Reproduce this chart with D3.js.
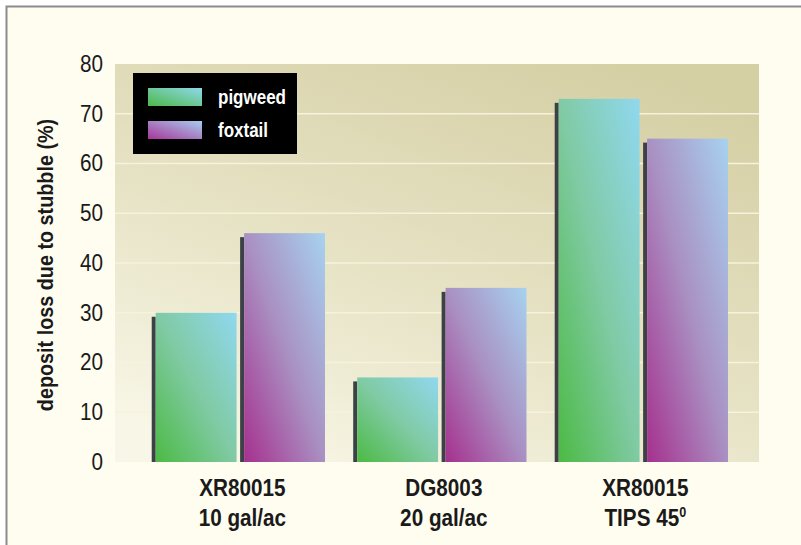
<!DOCTYPE html>
<html>
<head>
<meta charset="utf-8">
<script src="https://cdn.jsdelivr.net/npm/d3@7/dist/d3.min.js"></script>
<style>
  html, body { margin: 0; padding: 0; background: #ffffff; }
  svg { display: block; }
</style>
</head>
<body>
<script>
// ---- data ----
const categories = ["XR80015|10 gal/ac", "DG8003|20 gal/ac", "XR80015|TIPS 45"];
const catLine1 = ["XR80015", "DG8003", "XR80015"];
const catLine2 = ["10 gal/ac", "20 gal/ac", "TIPS 45"];
const catSup = ["", "", "0"];
const seriesNames = ["pigweed", "foxtail"];
const pigweed = [30, 17, 73];
const foxtail = [46, 35, 65];
const yTicks = [0, 10, 20, 30, 40, 50, 60, 70, 80];
const yTitle = "deposit loss due to stubble (%)";

const W = 801, H = 545;
const plot = { left: 115, right: 759, top: 64, bottom: 462 };
const FONT = "'Liberation Sans', Arial, sans-serif";
const SX = 0.9;

const svg = d3.select("body").append("svg").attr("width", W).attr("height", H);
const defs = svg.append("defs");

function lg(id, stops, x1, y1, x2, y2) {
  const g = defs.append("linearGradient").attr("id", id)
    .attr("x1", x1).attr("y1", y1).attr("x2", x2).attr("y2", y2);
  stops.forEach(s => g.append("stop").attr("offset", s[0]).attr("stop-color", s[1]));
}
lg("bgGrad", [[0, "#f8f6e6"], [0.45, "#e6e2c4"], [1, "#d5cfa4"]], 0.2, 1, 0.8, 0);
lg("pigGrad", [[0, "#4cba44"], [0.5, "#80caa4"], [1, "#90d8ef"]], 0, 1, 1, 0);
lg("foxGrad", [[0, "#a6308e"], [0.5, "#a990c2"], [1, "#a7d2f0"]], 0, 1, 1, 0);
lg("pigSw", [[0, "#4cb848"], [1, "#8fd8ea"]], 0, 1, 1, 0);
lg("foxSw", [[0, "#a8369a"], [1, "#a6cdee"]], 0, 1, 1, 0);

// page background + frame
svg.append("rect").attr("x", 6.5).attr("y", 6.5).attr("width", W + 10).attr("height", H + 10)
  .attr("fill", "#fffdf0").attr("stroke", "#8c8c8c").attr("stroke-width", 2);

// scales
const y = d3.scaleLinear().domain([0, 80]).range([plot.bottom, plot.top]);
const x0 = d3.scaleBand().domain(categories).range([123.5, 756.2]).paddingInner(0.14).paddingOuter(0.14);
const x1 = d3.scaleBand().domain(seriesNames).range([0, x0.bandwidth()]).paddingInner(0.04);

// plot background
svg.append("rect").attr("x", plot.left).attr("y", plot.top)
  .attr("width", plot.right - plot.left).attr("height", plot.bottom - plot.top)
  .attr("fill", "url(#bgGrad)");

// gridlines
svg.append("g").selectAll("line").data(yTicks.filter(d => d > 0 && d < 80)).join("line")
  .attr("x1", plot.left).attr("x2", plot.right)
  .attr("y1", d => y(d)).attr("y2", d => y(d))
  .attr("stroke", "#f6f2dc").attr("stroke-width", 1.5);

// bars
const rows = categories.map((c, i) => ({ cat: c, vals: [
  { key: "pigweed", v: pigweed[i], fill: "url(#pigGrad)" },
  { key: "foxtail", v: foxtail[i], fill: "url(#foxGrad)" }] }));
const SH = 4;
const grp = svg.append("g").selectAll("g").data(rows).join("g")
  .attr("transform", d => `translate(${x0(d.cat)},0)`);
const bars = grp.selectAll("g").data(d => d.vals).join("g");
bars.append("rect")
  .attr("x", d => x1(d.key)).attr("width", SH)
  .attr("y", d => y(d.v) + 4).attr("height", d => y(0) - y(d.v) - 4)
  .attr("fill", "#3c4146");
bars.append("rect")
  .attr("x", d => x1(d.key) + SH).attr("width", x1.bandwidth() - SH)
  .attr("y", d => y(d.v)).attr("height", d => y(0) - y(d.v))
  .attr("fill", d => d.fill);

// y axis
const yAxis = svg.append("g").attr("transform", `translate(${plot.left},0)`)
  .call(d3.axisLeft(y).tickValues(yTicks).tickSize(0).tickPadding(12 / SX).tickFormat(d3.format("d")));
yAxis.select(".domain").remove();
yAxis.selectAll("text")
  .attr("transform", `scale(${SX},1)`)
  .attr("font-family", FONT).attr("font-size", 23).attr("fill", "#1a1a1a");

// y title
svg.append("text")
  .attr("transform", `translate(45,265) rotate(-90) scale(${SX},1)`)
  .attr("text-anchor", "middle").attr("dominant-baseline", "central")
  .attr("font-family", FONT).attr("font-weight", "bold").attr("font-size", 22)
  .attr("fill", "#1a1a1a").text(yTitle);

// x labels
const xl = svg.append("g").selectAll("text").data(categories).join("text")
  .attr("text-anchor", "middle")
  .attr("font-family", FONT).attr("font-weight", "bold").attr("font-size", 23).attr("fill", "#1a1a1a");
xl.each(function(d, i) {
  const cx = x0(d) + x0.bandwidth() / 2 + 4;
  const t = d3.select(this);
  t.append("tspan").attr("x", 0).attr("y", 0).text(catLine1[i])
    .attr("transform", null);
  const l2 = t.append("tspan").attr("x", 0).attr("dy", 30).text(catLine2[i]);
  t.attr("transform", `translate(${cx},496) scale(${SX},1)`);
  if (catSup[i]) {
    t.append("tspan").attr("font-size", 14).attr("dy", -9).text(catSup[i]);
  }
});

// legend
const leg = svg.append("g");
leg.append("rect").attr("x", 133).attr("y", 73).attr("width", 164).attr("height", 81).attr("fill", "#000");
const legItems = [
  { name: seriesNames[0], fill: "url(#pigSw)", y: 88 },
  { name: seriesNames[1], fill: "url(#foxSw)", y: 121 }];
leg.selectAll("rect.sw").data(legItems).join("rect").attr("class", "sw")
  .attr("x", 148).attr("y", d => d.y).attr("width", 54).attr("height", 18)
  .attr("fill", d => d.fill);
leg.selectAll("text").data(legItems).join("text")
  .attr("transform", d => `translate(218,${d.y + 9}) scale(0.85,1)`)
  .attr("dominant-baseline", "central")
  .attr("font-family", FONT).attr("font-weight", "bold").attr("font-size", 20)
  .attr("fill", "#ffffff").text(d => d.name);
</script>
</body>
</html>
